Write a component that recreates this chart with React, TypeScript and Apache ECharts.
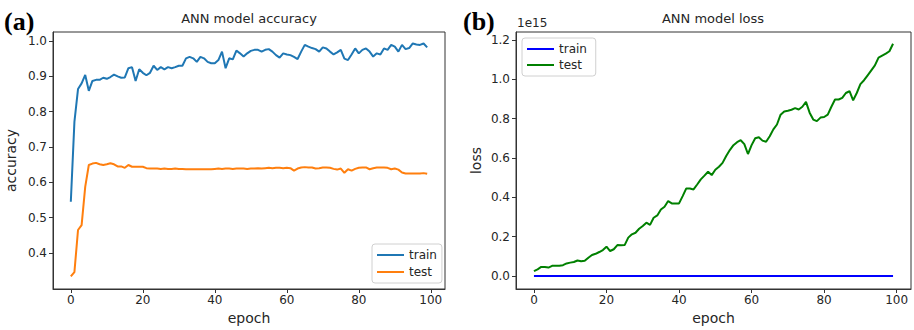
import React, { useEffect, useRef } from "react";
import * as echarts from "echarts";

const accTrain = [
  0.545, 0.771, 0.864, 0.88, 0.904, 0.859, 0.887, 0.89, 0.89, 0.896,
  0.893, 0.898, 0.905, 0.9, 0.896, 0.897, 0.923, 0.926, 0.887, 0.92,
  0.91, 0.903, 0.91, 0.93, 0.918, 0.926, 0.92, 0.926, 0.923, 0.926,
  0.93, 0.93, 0.951, 0.955, 0.951, 0.941, 0.955, 0.951, 0.941, 0.937,
  0.937, 0.946, 0.97, 0.923, 0.951, 0.948, 0.973, 0.965, 0.956, 0.965,
  0.972, 0.975, 0.975, 0.97, 0.975, 0.977, 0.97, 0.96, 0.953, 0.965,
  0.962, 0.96, 0.955, 0.949, 0.97, 0.989, 0.984, 0.98, 0.977, 0.97,
  0.982, 0.979, 0.97, 0.962, 0.968, 0.975, 0.95, 0.946, 0.962, 0.979,
  0.965, 0.975, 0.979, 0.97, 0.956, 0.965, 0.962, 0.979, 0.975, 0.989,
  0.984, 0.97, 0.989, 0.977, 0.98, 0.993, 0.99, 0.989, 0.993, 0.982,
];

const accTest = [
  0.334, 0.346, 0.465, 0.479, 0.587, 0.649, 0.653, 0.655, 0.651, 0.649,
  0.651, 0.654, 0.651, 0.645, 0.645, 0.641, 0.649, 0.644, 0.644, 0.644,
  0.644, 0.64, 0.639, 0.639, 0.639, 0.638, 0.639, 0.638, 0.638, 0.639,
  0.638, 0.638, 0.637, 0.637, 0.637, 0.637, 0.637, 0.637, 0.637, 0.637,
  0.638, 0.639, 0.638, 0.639, 0.639, 0.638, 0.639, 0.639, 0.639, 0.638,
  0.639, 0.639, 0.64, 0.639, 0.64, 0.641, 0.64, 0.641, 0.641, 0.64,
  0.641, 0.64, 0.633, 0.639, 0.642, 0.643, 0.642, 0.642, 0.639, 0.64,
  0.642, 0.642, 0.641, 0.638, 0.636, 0.639, 0.627, 0.637, 0.633, 0.638,
  0.641, 0.642, 0.642, 0.637, 0.64, 0.642, 0.642, 0.642, 0.641, 0.637,
  0.639, 0.636, 0.628, 0.625, 0.625, 0.625, 0.625, 0.625, 0.626, 0.624,
];

// loss values in units of 1e15
const lossTrain = [
  0, 0, 0, 0, 0, 0, 0, 0, 0, 0,
  0, 0, 0, 0, 0, 0, 0, 0, 0, 0,
  0, 0, 0, 0, 0, 0, 0, 0, 0, 0,
  0, 0, 0, 0, 0, 0, 0, 0, 0, 0,
  0, 0, 0, 0, 0, 0, 0, 0, 0, 0,
  0, 0, 0, 0, 0, 0, 0, 0, 0, 0,
  0, 0, 0, 0, 0, 0, 0, 0, 0, 0,
  0, 0, 0, 0, 0, 0, 0, 0, 0, 0,
  0, 0, 0, 0, 0, 0, 0, 0, 0, 0,
  0, 0, 0, 0, 0, 0, 0, 0, 0, 0,
];

const lossTest = [
  0.025, 0.034, 0.046, 0.046, 0.043, 0.052, 0.052, 0.052, 0.055, 0.064,
  0.068, 0.071, 0.079, 0.075, 0.077, 0.093, 0.107, 0.113, 0.122, 0.132,
  0.149, 0.127, 0.136, 0.157, 0.156, 0.157, 0.195, 0.212, 0.22, 0.24,
  0.254, 0.271, 0.26, 0.296, 0.308, 0.338, 0.352, 0.381, 0.369, 0.369,
  0.369, 0.406, 0.445, 0.445, 0.44, 0.465, 0.491, 0.51, 0.53, 0.513,
  0.54, 0.555, 0.575, 0.61, 0.64, 0.665, 0.68, 0.69, 0.67, 0.62,
  0.665, 0.7, 0.705, 0.688, 0.682, 0.71, 0.745, 0.77, 0.82, 0.836,
  0.84, 0.845, 0.853, 0.846, 0.86, 0.885, 0.83, 0.795, 0.787, 0.805,
  0.808, 0.82, 0.86, 0.897, 0.897, 0.905, 0.93, 0.939, 0.893, 0.93,
  0.975, 0.995, 1.02, 1.045, 1.07, 1.11, 1.12, 1.13, 1.142, 1.18,
];

const xTicks = [0, 20, 40, 60, 80, 100];
const accTicks = [0.4, 0.5, 0.6, 0.7, 0.8, 0.9, 1.0];
const lossTicks = [0, 0.2, 0.4, 0.6, 0.8, 1.0, 1.2];

const TEXT = "#262626";
const SPINE = "#333333";
const FONT = "DejaVu Sans";

const toPairs = (arr: number[]) => arr.map((v, i) => [i, v]);

function xAxisCfg(gridIndex: number) {
  return {
    type: "value",
    gridIndex,
    min: -4.95,
    max: 103.95,
    name: "epoch",
    nameLocation: "middle",
    nameGap: 22,
    nameTextStyle: { color: TEXT, fontSize: 14, fontFamily: FONT },
    axisLine: { show: true, onZero: false, lineStyle: { color: SPINE, width: 1 } },
    axisTick: {
      show: true,
      length: 4,
      customValues: xTicks,
      lineStyle: { color: SPINE },
    },
    axisLabel: {
      customValues: xTicks,
      color: TEXT,
      fontSize: 12,
      fontFamily: FONT,
      margin: 5,
    },
    splitLine: { show: false },
  };
}

export default function App() {
  const ref = useRef<HTMLDivElement>(null);
  useEffect(() => {
    if (!ref.current) return;
    const chart = echarts.init(ref.current, null, { renderer: "svg" });
    const option: any = {
      animation: false,
      backgroundColor: "#ffffff",
      grid: [
        {
          left: 53,
          right: 469,
          top: 32,
          bottom: 41,
          show: true,
          borderColor: SPINE,
          borderWidth: 1,
          backgroundColor: "transparent",
        },
        {
          left: 516,
          right: 3,
          top: 32,
          bottom: 41,
          show: true,
          borderColor: SPINE,
          borderWidth: 1,
          backgroundColor: "transparent",
        },
      ],
      xAxis: [xAxisCfg(0), xAxisCfg(1)],
      yAxis: [
        {
          type: "value",
          gridIndex: 0,
          min: 0.298,
          max: 1.0255,
          name: "accuracy",
          nameLocation: "middle",
          nameGap: 35,
          nameTextStyle: { color: TEXT, fontSize: 14, fontFamily: FONT },
          axisLine: { show: true, onZero: false, lineStyle: { color: SPINE } },
          axisTick: { show: true, length: 4, customValues: accTicks, lineStyle: { color: SPINE } },
          axisLabel: {
            customValues: accTicks,
            color: TEXT,
            fontSize: 12,
            fontFamily: FONT,
            margin: 6,
            formatter: (v: number) => v.toFixed(1),
          },
          splitLine: { show: false },
        },
        {
          type: "value",
          gridIndex: 1,
          min: -0.066,
          max: 1.24,
          name: "loss",
          nameLocation: "middle",
          nameGap: 33,
          nameTextStyle: { color: TEXT, fontSize: 14, fontFamily: FONT },
          axisLine: { show: true, onZero: false, lineStyle: { color: SPINE } },
          axisTick: { show: true, length: 4, customValues: lossTicks, lineStyle: { color: SPINE } },
          axisLabel: {
            customValues: lossTicks,
            color: TEXT,
            fontSize: 12,
            fontFamily: FONT,
            margin: 6,
            formatter: (v: number) => v.toFixed(1),
          },
          splitLine: { show: false },
        },
      ],
      legend: [
        {
          data: ["train", "test"],
          orient: "vertical",
          left: 372,
          top: 244,
          padding: [5, 5, 5, 5],
          itemGap: 5,
          itemWidth: 27,
          itemHeight: 2,
          icon: "rect",
          borderColor: "#d0d0d0",
          borderWidth: 1,
          borderRadius: 3,
          backgroundColor: "#ffffff",
          textStyle: { color: TEXT, fontSize: 12, fontFamily: FONT },
          selectedMode: false,
        },
        {
          data: ["train ", "test "],
          orient: "vertical",
          left: 522,
          top: 38,
          padding: [5, 5, 5, 5],
          itemGap: 4,
          itemWidth: 27,
          itemHeight: 2,
          icon: "rect",
          borderColor: "#d0d0d0",
          borderWidth: 1,
          borderRadius: 3,
          backgroundColor: "#ffffff",
          textStyle: { color: TEXT, fontSize: 12, fontFamily: FONT },
          selectedMode: false,
        },
      ],
      series: [
        {
          name: "train",
          type: "line",
          xAxisIndex: 0,
          yAxisIndex: 0,
          data: toPairs(accTrain),
          showSymbol: false,
          lineStyle: { color: "#1f77b4", width: 2 },
          itemStyle: { color: "#1f77b4" },
        },
        {
          name: "test",
          type: "line",
          xAxisIndex: 0,
          yAxisIndex: 0,
          data: toPairs(accTest),
          showSymbol: false,
          lineStyle: { color: "#ff7f0e", width: 2 },
          itemStyle: { color: "#ff7f0e" },
        },
        {
          name: "train ",
          type: "line",
          xAxisIndex: 1,
          yAxisIndex: 1,
          data: toPairs(lossTrain),
          showSymbol: false,
          lineStyle: { color: "#0000ff", width: 2 },
          itemStyle: { color: "#0000ff" },
        },
        {
          name: "test ",
          type: "line",
          xAxisIndex: 1,
          yAxisIndex: 1,
          data: toPairs(lossTest),
          showSymbol: false,
          lineStyle: { color: "#008000", width: 2 },
          itemStyle: { color: "#008000" },
        },
      ],
      graphic: [
        {
          type: "text",
          x: 249,
          y: 18,
          style: {
            text: "ANN model accuracy",
            fill: TEXT,
            font: `13px "${FONT}"`,
            textAlign: "center",
            textVerticalAlign: "middle",
          },
        },
        {
          type: "text",
          x: 713,
          y: 18,
          style: {
            text: "ANN model loss",
            fill: TEXT,
            font: `13px "${FONT}"`,
            textAlign: "center",
            textVerticalAlign: "middle",
          },
        },
        {
          type: "text",
          x: 517,
          y: 23,
          style: {
            text: "1e15",
            fill: TEXT,
            font: `12px "${FONT}"`,
            textAlign: "left",
            textVerticalAlign: "middle",
          },
        },
        {
          type: "text",
          x: 4,
          y: 21,
          style: {
            text: "(a)",
            fill: "#000000",
            font: `bold 26px "Liberation Serif"`,
            textAlign: "left",
            textVerticalAlign: "middle",
          },
        },
        {
          type: "text",
          x: 463,
          y: 21,
          style: {
            text: "(b)",
            fill: "#000000",
            font: `bold 26px "Liberation Serif"`,
            textAlign: "left",
            textVerticalAlign: "middle",
          },
        },
      ],
    };
    chart.setOption(option);
    return () => chart.dispose();
  }, []);
  return <div ref={ref} style={{ width: 914, height: 330, position: "absolute", left: 0, top: 0 }} />;
}
